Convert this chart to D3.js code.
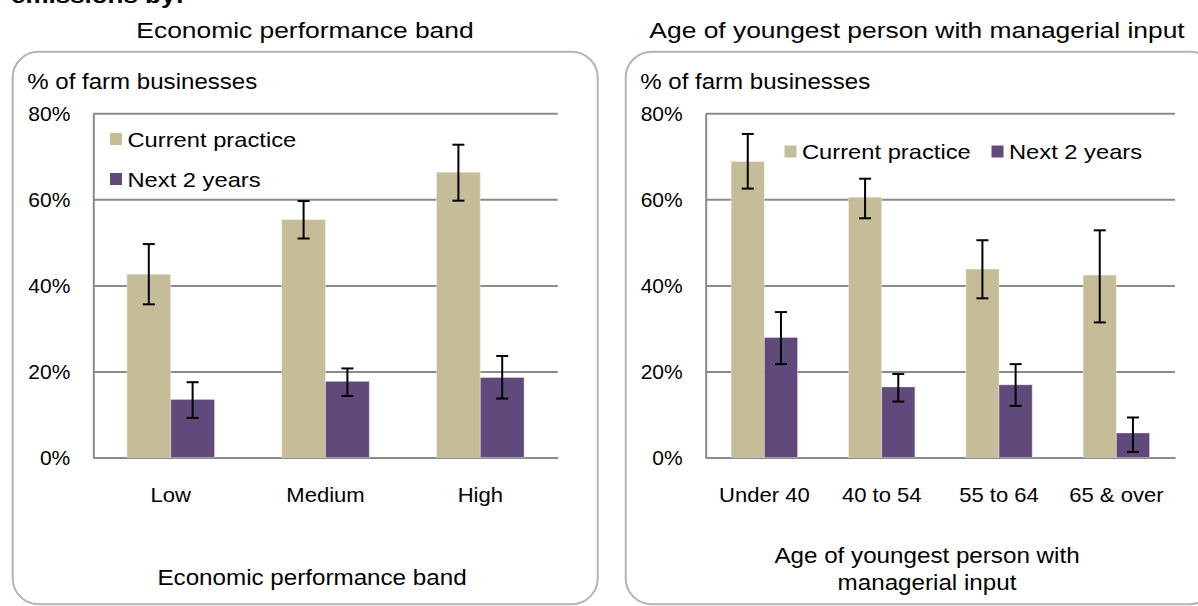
<!DOCTYPE html>
<html>
<head>
<meta charset="utf-8">
<script src="https://cdn.jsdelivr.net/npm/d3@7"></script>
<style>
  html, body { margin: 0; padding: 0; background: #fff; }
  svg { display: block; }
  text { font-family: "Liberation Sans", Arial, sans-serif; fill: #000; }
</style>
</head>
<body>
<svg id="chart" width="1198" height="606"></svg>
<script>
// ---------------- DATA ----------------
const seriesNames = ["Current practice", "Next 2 years"];
const yTicks = [0, 20, 40, 60, 80];

const econCategories = ["Low", "Medium", "High"];
const econCurrent = [42.6, 55.3, 66.3];
const econCurrentLow = [35.6, 50.9, 59.7];
const econCurrentHigh = [49.6, 59.6, 72.7];
const econNext = [13.5, 17.7, 18.6];
const econNextLow = [9.2, 14.3, 13.7];
const econNextHigh = [17.5, 20.7, 23.6];

const ageCategories = ["Under 40", "40 to 54", "55 to 64", "65 & over"];
const ageCurrent = [68.8, 60.5, 43.8, 42.4];
const ageCurrentLow = [62.5, 55.6, 37.0, 31.4];
const ageCurrentHigh = [75.2, 64.8, 50.5, 52.8];
const ageNext = [27.9, 16.4, 16.9, 5.7];
const ageNextLow = [21.7, 13.0, 12.0, 1.3];
const ageNextHigh = [33.8, 19.4, 21.7, 9.3];

// ---------------- STYLE ----------------
const colors = ["#C4BD97", "#604A7B"];
const gridColor = "#8a8a8a";
const boxColor = "#b4b4b4";

const svg = d3.select("#chart");

// stretched text helper (reference glyphs are horizontally wide)
function stext(parent, x, y, str, size, sx, anchor, weight) {
  const t = parent.append("text")
    .attr("transform", `translate(${x},${y}) scale(${sx},1)`)
    .attr("text-anchor", anchor || "start")
    .style("font-size", size + "px")
    .text(str);
  if (weight) t.style("font-weight", weight);
  return t;
}

// clipped page heading
stext(svg, 11, 3, "emissions by:", 22, 1.18, "start", "bold");

function panel(cfg) {
  const g = svg.append("g");
  // rounded frame
  g.append("rect")
    .attr("x", cfg.box[0]).attr("y", cfg.box[1])
    .attr("width", cfg.box[2]).attr("height", cfg.box[3])
    .attr("rx", 26).attr("ry", 26)
    .attr("fill", "none").attr("stroke", boxColor).attr("stroke-width", 2);

  stext(g, cfg.titleX, 37.5, cfg.title, 22, 1.2, "middle");
  stext(g, cfg.box[0] + 14.5, 89, "% of farm businesses", 21.5, 1.12, "start");

  const x = d3.scaleBand().domain(cfg.categories).range([cfg.x0, cfg.x1]).padding(0);
  const y = d3.scaleLinear().domain([0, 80]).range([457.5, 113.3]);
  const clusterW = x.step() * 0.566;
  const sub = d3.scaleBand().domain([0, 1]).range([0, clusterW]).padding(0);

  // y axis with gridlines
  const yAxis = d3.axisLeft(y).tickValues(yTicks).tickFormat(d => d + "%")
    .tickSize(-(cfg.x1 - cfg.x0)).tickSizeOuter(0).tickPadding(23);
  const ya = g.append("g").attr("transform", `translate(${cfg.x0},0)`).call(yAxis);
  ya.select(".domain").attr("stroke", gridColor).attr("stroke-width", 2);
  ya.selectAll(".tick line").attr("stroke", gridColor).attr("stroke-width", 2);
  ya.selectAll(".tick text")
    .style("font-size", "21px").style("font-family", "Liberation Sans, Arial, sans-serif")
    .attr("fill", "#000").attr("dy", "0.34em");

  // x axis
  const xAxis = d3.axisBottom(x).tickSize(0).tickSizeOuter(0).tickPadding(30);
  const xa = g.append("g").attr("transform", `translate(0,${y(0)})`).call(xAxis);
  xa.select(".domain").attr("stroke", gridColor).attr("stroke-width", 2);
  xa.selectAll(".tick text")
    .style("font-size", "21px").style("font-family", "Liberation Sans, Arial, sans-serif")
    .attr("fill", "#000").attr("transform", "scale(1.05,1)");

  // bars
  const series = [
    { vals: cfg.current, lo: cfg.currentLow, hi: cfg.currentHigh },
    { vals: cfg.next, lo: cfg.nextLow, hi: cfg.nextHigh }
  ];
  series.forEach((s, si) => {
    const rows = cfg.categories.map((c, i) => ({ c, v: s.vals[i], lo: s.lo[i], hi: s.hi[i] }));
    const left = d => x(d.c) + (x.bandwidth() - clusterW) / 2 + sub(si);
    g.append("g").selectAll("rect").data(rows).join("rect")
      .attr("x", left)
      .attr("y", d => y(d.v))
      .attr("width", sub.bandwidth())
      .attr("height", d => y(0) - y(d.v))
      .attr("fill", colors[si])
      .attr("stroke", "rgba(255,255,255,0.35)").attr("stroke-width", 1);
    const eb = g.append("g").selectAll("g").data(rows).join("g")
      .attr("stroke", "#000").attr("stroke-width", 2);
    const cx = d => left(d) + sub.bandwidth() / 2;
    eb.append("line").attr("x1", cx).attr("x2", cx).attr("y1", d => y(d.lo)).attr("y2", d => y(d.hi));
    eb.append("line").attr("x1", d => cx(d) - 6).attr("x2", d => cx(d) + 6).attr("y1", d => y(d.hi)).attr("y2", d => y(d.hi));
    eb.append("line").attr("x1", d => cx(d) - 6).attr("x2", d => cx(d) + 6).attr("y1", d => y(d.lo)).attr("y2", d => y(d.lo));
  });

  // legend
  seriesNames.forEach((name, i) => {
    const p = cfg.legend[i];
    g.append("rect").attr("x", p[0]).attr("y", p[1] - 13.5).attr("width", 12).attr("height", 12).attr("fill", colors[i]);
    stext(g, p[0] + 17.5, p[1], name, 21, 1.13, "start");
  });

  // axis title
  cfg.axisTitle.forEach((line, i) => {
    stext(g, cfg.axisTitleX, cfg.axisTitleY + i * 27.5, line, 22, cfg.axisTitleSx, "middle");
  });
}

panel({
  box: [12.7, 51.7, 585, 552.5],
  title: "Economic performance band", titleX: 305,
  categories: econCategories, x0: 93.3, x1: 557.7,
  current: econCurrent, currentLow: econCurrentLow, currentHigh: econCurrentHigh,
  next: econNext, nextLow: econNextLow, nextHigh: econNextHigh,
  legend: [[110, 146.5], [110, 186.5]],
  axisTitle: ["Economic performance band"], axisTitleX: 312, axisTitleY: 584.5, axisTitleSx: 1.1
});

panel({
  box: [625.7, 51.7, 590, 552.5],
  title: "Age of youngest person with managerial input", titleX: 917,
  categories: ageCategories, x0: 705.7, x1: 1175,
  current: ageCurrent, currentLow: ageCurrentLow, currentHigh: ageCurrentHigh,
  next: ageNext, nextLow: ageNextLow, nextHigh: ageNextHigh,
  legend: [[784.5, 159], [991.5, 159]],
  axisTitle: ["Age of youngest person with", "managerial input"], axisTitleX: 927, axisTitleY: 562.7, axisTitleSx: 1.1
});
</script>
</body>
</html>
